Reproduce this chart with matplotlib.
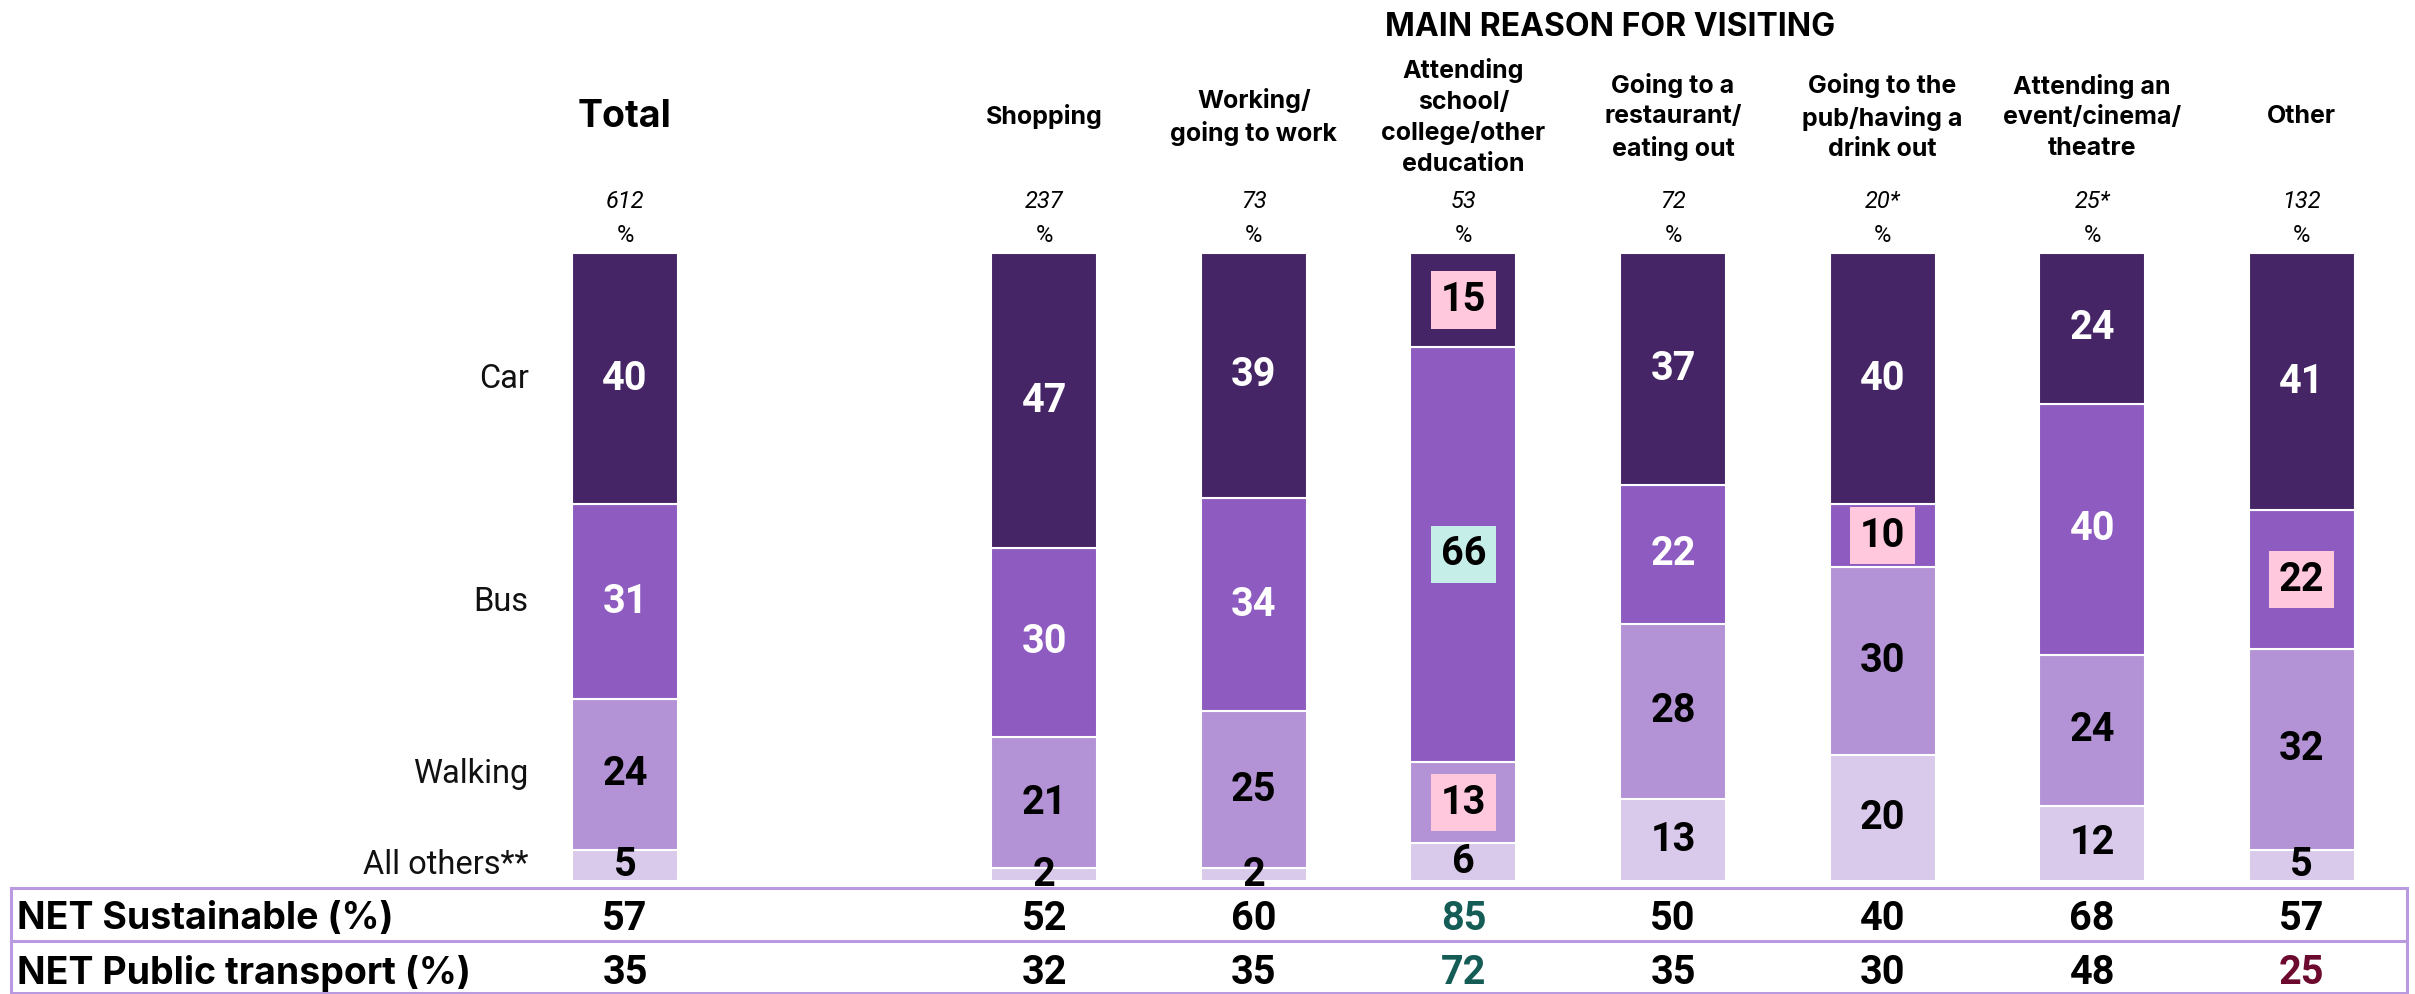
import matplotlib
matplotlib.use("Agg")
import matplotlib.pyplot as plt
from matplotlib.transforms import blended_transform_factory
from matplotlib.patches import Rectangle
from matplotlib.lines import Line2D

# ---------------- data ----------------
columns = ["Total", "Shopping", "Working/\ngoing to work",
           "Attending\nschool/\ncollege/other\neducation",
           "Going to a\nrestaurant/\neating out",
           "Going to the\npub/having a\ndrink out",
           "Attending an\nevent/cinema/\ntheatre", "Other"]
positions = [0, 2, 3, 4, 5, 6, 7, 8]
base_n = ["612", "237", "73", "53", "72", "20*", "25*", "132"]
modes = ["Car", "Bus", "Walking", "All others**"]
car = [40, 47, 39, 15, 37, 40, 24, 41]
bus = [31, 30, 34, 66, 22, 10, 40, 22]
walking = [24, 21, 25, 13, 28, 30, 24, 32]
others = [5, 2, 2, 6, 13, 20, 12, 5]
net_sustainable = [57, 52, 60, 85, 50, 40, 68, 57]
net_public = [35, 32, 35, 72, 35, 30, 48, 25]
net_labels = ["NET Sustainable (%)", "NET Public transport (%)"]
title = "MAIN REASON FOR VISITING"

# ---------------- style ----------------
seg_colors = ["#452566", "#8e5bc1", "#b392d5", "#d9c9ea"]
seg_text = ["white", "white", "black", "black"]
PINK, TEAL = "#ffc8dd", "#c6eee8"
highlights = {(3, 0): PINK, (3, 1): TEAL, (3, 2): PINK, (5, 1): PINK, (7, 1): PINK}
net_colors = {(0, 3): "#145c55", (1, 3): "#145c55", (1, 7): "#6b0a2e"}
BOX = "#b99ae0"

W, H, DPI = 2415, 994, 100
fig = plt.figure(figsize=(W / DPI, H / DPI), dpi=DPI)
ax = fig.add_axes([0, 0, 1, 1])
ax.axis("off")

unit = 209.6          # px per category slot
x0 = 625              # px of the Total column
y0 = 881              # px (from top) of 0 %
ppp = 6.28            # px per percent
ax.set_xlim(-x0 / unit, (W - x0) / unit)
ax.set_ylim(-(H - y0) / ppp, y0 / ppp)

bt = blended_transform_factory(ax.transData, ax.transAxes)
def fy(py):
    return 1 - py / H

series = [car, bus, walking, others]
bottoms = [0] * len(positions)
width = 0.505
seg_centers = []
for s_idx in range(3, -1, -1):
    vals = series[s_idx]
    ax.bar(positions, vals, width=width, bottom=bottoms, color=seg_colors[s_idx],
           edgecolor="white", linewidth=1.5)
    centers = [b + v / 2 for b, v in zip(bottoms, vals)]
    for c in range(len(positions)):
        hl = highlights.get((c, s_idx))
        kw = {}
        col = seg_text[s_idx]
        if hl:
            col = "black"
            kw["bbox"] = dict(boxstyle="square,pad=0.25", facecolor=hl, edgecolor="none")
        ax.text(positions[c], centers[c], str(vals[c]), ha="center", va="center",
                color=col, fontsize=28.5, fontweight="bold", family="Roboto", **kw)
    seg_centers.append((s_idx, centers[0]))
    bottoms = [b + v for b, v in zip(bottoms, vals)]

# row labels next to Total bar
for s_idx, cy in seg_centers:
    ax.text(positions[0] - 0.46, cy, modes[s_idx], ha="right", va="center",
            fontsize=23.5, fontweight="normal", family="Roboto", color="#111111")

# headers
for c, name in enumerate(columns):
    if c == 0:
        ax.text(positions[c], fy(117), name, transform=bt, ha="center", va="center",
                fontsize=27, fontweight="bold", family="Inter")
    else:
        ax.text(positions[c], fy(117), name, transform=bt, ha="center", va="center",
                fontsize=18, fontweight="bold", family="Inter", linespacing=1.42)
    ax.text(positions[c], fy(201), base_n[c], transform=bt, ha="center", va="center",
            fontsize=17, style="italic", fontweight="normal", family="Roboto")
    ax.text(positions[c], fy(236), "%", transform=bt, ha="center", va="center",
            fontsize=17, fontweight="normal", family="Roboto")

ax.text((positions[1] + positions[-1]) / 2 - 0.3, fy(27), title, transform=bt,
        ha="center", va="center", fontsize=23, fontweight="bold", family="Inter")

# NET rows box
xl, xr = 11 / W, 2407 / W
r_top, r_mid, r_bot = fy(888), fy(941), fy(993)
ax.add_patch(Rectangle((xl, r_bot), xr - xl, r_top - r_bot, transform=ax.transAxes,
                       fill=False, edgecolor=BOX, linewidth=2.2, clip_on=False))
ax.add_line(Line2D([xl, xr], [r_mid, r_mid], transform=ax.transAxes, color=BOX,
                   linewidth=2.2))

for r, (lab, vals, py) in enumerate(zip(net_labels, [net_sustainable, net_public], [919, 973])):
    ax.text(17 / W, fy(py), lab, transform=ax.transAxes, ha="left", va="center",
            fontsize=27, fontweight="bold", family="Inter")
    for c, v in enumerate(vals):
        ax.text(positions[c], fy(py), str(v), transform=bt, ha="center", va="center",
                fontsize=28.5, fontweight="bold", family="Roboto",
                color=net_colors.get((r, c), "black"))

fig.savefig("out.png", dpi=DPI)
